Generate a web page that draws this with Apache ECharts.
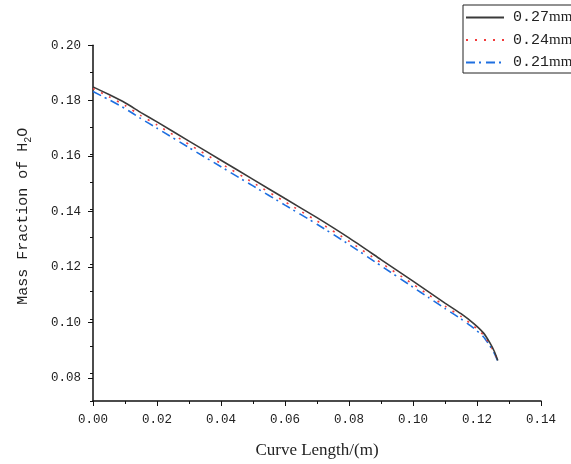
<!DOCTYPE html>
<html>
<head>
<meta charset="utf-8">
<script src="https://cdn.jsdelivr.net/npm/echarts@6/dist/echarts.min.js"></script>
<style>html,body{margin:0;padding:0;background:#fff;}#c{width:571px;height:464px;}</style>
</head>
<body>
<div id="c"></div>
<script>
var curveLength = [0, 0.005, 0.01, 0.015, 0.02, 0.03, 0.04, 0.05, 0.06, 0.07, 0.08, 0.09, 0.10, 0.105, 0.11, 0.115, 0.119, 0.122, 0.124, 0.1255, 0.1265];
var mf027 = [0.1848, 0.1820, 0.1790, 0.1754, 0.1720, 0.1650, 0.1580, 0.1510, 0.1440, 0.1370, 0.1296, 0.1217, 0.1138, 0.1098, 0.1058, 0.1019, 0.0983, 0.0949, 0.0913, 0.0879, 0.0848];
var mf024 = [0.1842, 0.1812, 0.1780, 0.1743, 0.1709, 0.1638, 0.1568, 0.1498, 0.1428, 0.1358, 0.1284, 0.1205, 0.1127, 0.1087, 0.1047, 0.1009, 0.0974, 0.0941, 0.0907, 0.0875, 0.0847];
var mf021 = [0.1831, 0.1801, 0.1769, 0.1732, 0.1697, 0.1626, 0.1556, 0.1486, 0.1416, 0.1346, 0.1272, 0.1194, 0.1116, 0.1077, 0.1038, 0.1000, 0.0966, 0.0935, 0.0902, 0.0872, 0.0845];
var seriesNames = ['0.27mm', '0.24mm', '0.21mm'];
var xTicks = [0, 0.02, 0.04, 0.06, 0.08, 0.10, 0.12, 0.14];
var yTicks = [0.08, 0.10, 0.12, 0.14, 0.16, 0.18, 0.20];

function pairs(xs, ys) { return xs.map(function (x, i) { return [x, ys[i]]; }); }

var chart = echarts.init(document.getElementById('c'), null, {renderer: 'canvas'});
var mono = 'Liberation Mono';
var serif = 'Liberation Serif';
var axisColor = '#111';

chart.setOption({
  animation: false,
  backgroundColor: '#fff',
  grid: [
    {left: 93, right: 30, top: 45.3, bottom: 58.5},
    {left: 93, right: 30, top: 45.3, bottom: 86.2}
  ],
  legend: {
    orient: 'vertical',
    left: 463, top: 5,
    padding: [5, 8, 3, 2],
    itemGap: 7.5,
    itemWidth: 38, itemHeight: 14,
    borderColor: '#222', borderWidth: 1,
    data: seriesNames,
    itemStyle: {opacity: 0},
    formatter: function (n) { return '{a|' + n.replace('mm', '') + '}{b|mm}'; },
    textStyle: {
      padding: [0, 0, 0, 4],
      rich: {
        a: {fontFamily: mono, fontSize: 15, color: '#222'},
        b: {fontFamily: serif, fontSize: 15, color: '#222'}
      }
    }
  },
  xAxis: [
    {
      gridIndex: 0, type: 'value', min: xTicks[0], max: xTicks[xTicks.length - 1], interval: 0.02,
      name: 'Curve Length/(m)', nameLocation: 'middle', nameGap: 41,
      nameTextStyle: {fontFamily: serif, fontSize: 17, color: '#222'},
      axisLine: {show: true, lineStyle: {color: axisColor, width: 1.5}},
      axisTick: {show: true, inside: false, length: 5, lineStyle: {color: axisColor}},
      minorTick: {show: true, splitNumber: 2, length: 3, lineStyle: {color: axisColor}},
      axisLabel: {fontFamily: mono, fontSize: 12.5, color: '#222', margin: 12,
        formatter: function (v) { return v.toFixed(2); }},
      splitLine: {show: false}
    },
    {gridIndex: 1, type: 'value', min: 0, max: 0.14, show: false}
  ],
  yAxis: [
    {
      gridIndex: 0, type: 'value', min: 0.07, max: 0.20, interval: 0.01,
      name: 'Mass Fraction of H{s|2}O', nameLocation: 'middle', nameGap: 60, nameRotate: 90,
      nameTextStyle: {fontFamily: mono, fontSize: 15, color: '#222', padding: [0, 0, 0, 14],
        rich: {s: {fontFamily: mono, fontSize: 10, color: '#222', padding: [10, 0, 0, 0]}}},
      axisLine: {show: true, lineStyle: {color: axisColor, width: 1.5}},
      axisTick: {show: true, inside: false, length: 3, lineStyle: {color: axisColor}},
      axisLabel: {show: false},
      splitLine: {show: false}
    },
    {
      gridIndex: 1, type: 'value', min: yTicks[0], max: yTicks[yTicks.length - 1], interval: 0.02,
      axisLine: {show: false},
      axisTick: {show: true, inside: false, length: 5, lineStyle: {color: axisColor}},
      axisLabel: {fontFamily: mono, fontSize: 12.5, color: '#222', margin: 12,
        formatter: function (v) { return v.toFixed(2); }},
      splitLine: {show: false}
    }
  ],
  series: [
    {name: seriesNames[0], type: 'line', xAxisIndex: 0, yAxisIndex: 0, symbol: 'none', smooth: 0.2,
      data: pairs(curveLength, mf027), z: 3,
      lineStyle: {color: '#3a3a3a', width: 1.6, type: 'solid'}, itemStyle: {color: '#3a3a3a'}},
    {name: seriesNames[1], type: 'line', xAxisIndex: 0, yAxisIndex: 0, symbol: 'none', smooth: 0.2,
      data: pairs(curveLength, mf024), z: 2,
      lineStyle: {color: '#f23a3a', width: 1.6, type: [2, 7]}, itemStyle: {color: '#f23a3a'}},
    {name: seriesNames[2], type: 'line', xAxisIndex: 0, yAxisIndex: 0, symbol: 'none', smooth: 0.2,
      data: pairs(curveLength, mf021), z: 1,
      lineStyle: {color: '#1e6fe0', width: 1.6, type: [9, 4, 2, 5]}, itemStyle: {color: '#1e6fe0'}}
  ]
});
</script>
</body>
</html>
